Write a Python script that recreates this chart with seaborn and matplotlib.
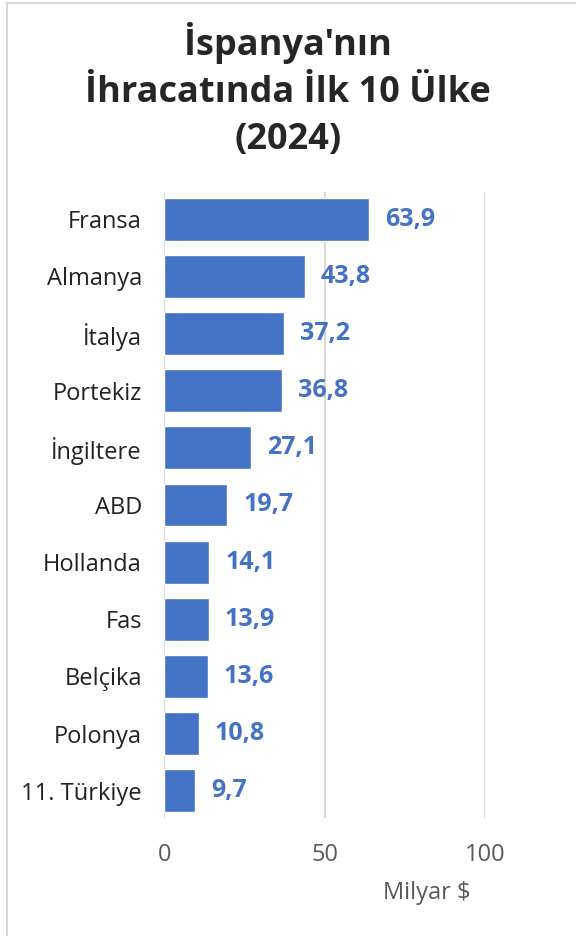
import pandas as pd
import numpy as np
import matplotlib.pyplot as plt
import seaborn as sns
from matplotlib.lines import Line2D

# data
countries = ['Fransa', 'Almanya', 'İtalya', 'Portekiz', 'İngiltere', 'ABD',
             'Hollanda', 'Fas', 'Belçika', 'Polonya', '11. Türkiye']
values = [63.9, 43.8, 37.2, 36.8, 27.1, 19.7, 14.1, 13.9, 13.6, 10.8, 9.7]
x_ticks = [0, 50, 100]

df = pd.DataFrame({'country': countries, 'value': values})

sns.set_style('white')
plt.rcParams['font.family'] = ['Open Sans', 'DejaVu Sans']

blue = '#4472C4'

fig = plt.figure(figsize=(5.76, 9.36), dpi=100)
ax = fig.add_axes([0.285, 0.126, 0.557, 0.669])

sns.barplot(data=df, x='value', y='country', orient='h', color=blue,
            saturation=1, width=0.75, ax=ax)

ax.set_xlim(0, 100)
ax.set_xticks(x_ticks)
ax.set_ylim(len(countries) - 0.52, -0.48)
ax.grid(axis='x', color='#d9d9d9', lw=1.5)
ax.set_axisbelow(True)
for s in ax.spines.values():
    s.set_visible(False)

ax.tick_params(axis='y', length=0, pad=16, labelsize=17, labelcolor='#222222')
ax.tick_params(axis='x', length=0, pad=18, labelsize=17, labelcolor='#595959')
ax.set_ylabel('')
ax.set_xlabel('Milyar $', fontsize=17, color='#595959')
ax.xaxis.set_label_coords(0.82, -0.1)

# value labels
for i, v in enumerate(values):
    ax.text(v + 5, i, f'{v:.1f}'.replace('.', ','), va='center', ha='left',
            fontsize=18, fontweight='bold', color=blue)

fig.suptitle("İspanya'nın\nİhracatında İlk 10 Ülke\n(2024)", y=0.977,
             fontsize=26, fontweight='bold', linespacing=1.42)

# chart frame
fig.add_artist(Line2D([0.012, 0.012], [0.0, 0.997], color='#d9d9d9', lw=1.5))
fig.add_artist(Line2D([0.012, 1.0], [0.997, 0.997], color='#d9d9d9', lw=1.5))

fig.savefig('out.png', dpi=100)
